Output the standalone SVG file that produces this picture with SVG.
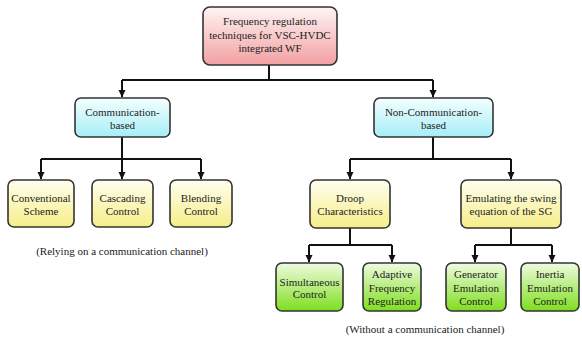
<svg xmlns="http://www.w3.org/2000/svg" width="582" height="338" viewBox="0 0 582 338">
<defs>
<linearGradient id="gPink" x1="0" y1="0" x2="0" y2="1"><stop offset="0" stop-color="#fff4f4"/><stop offset="1" stop-color="#f2a0a2"/></linearGradient>
<linearGradient id="gCyan" x1="0" y1="0" x2="0" y2="1"><stop offset="0" stop-color="#f4feff"/><stop offset="1" stop-color="#a6eef6"/></linearGradient>
<linearGradient id="gYel" x1="0" y1="0" x2="0" y2="1"><stop offset="0" stop-color="#fffff0"/><stop offset="1" stop-color="#f6ee88"/></linearGradient>
<linearGradient id="gGrn" x1="0" y1="0" x2="0" y2="1"><stop offset="0" stop-color="#effce0"/><stop offset="1" stop-color="#7ede1e"/></linearGradient>
<marker id="arr" markerWidth="8" markerHeight="8" refX="7" refY="4" orient="auto" markerUnits="userSpaceOnUse"><path d="M0,0.5 L7.5,4 L0,7.5 Z" fill="#111"/></marker>
<style>
.box{stroke:#333;stroke-width:1.6}
text{font-family:'Liberation Serif','DejaVu Serif',serif;font-size:11px;fill:#222;text-anchor:middle}
.c{fill:none;stroke:#111;stroke-width:2}
.a{fill:none;stroke:#111;stroke-width:2;marker-end:url(#arr)}
</style>
</defs>
<g id="connectors">
<path class="c" d="M269,65 V80 M122,80 H433"/>
<path class="a" d="M122,80 V97"/>
<path class="a" d="M433,80 V97"/>
<path class="c" d="M122,137 V159 M41,159 H201"/>
<path class="a" d="M41,159 V179"/>
<path class="a" d="M122,159 V179"/>
<path class="a" d="M201,159 V179"/>
<path class="c" d="M433,137 V159 M350,159 H511"/>
<path class="a" d="M350,159 V179"/>
<path class="a" d="M511,159 V179"/>
<path class="c" d="M350,228 V245 M309,245 H392"/>
<path class="a" d="M309,245 V262"/>
<path class="a" d="M392,245 V262"/>
<path class="c" d="M511,228 V245 M475,245 H552"/>
<path class="a" d="M475,245 V262"/>
<path class="a" d="M552,245 V262"/>
</g>
<g font-family="Liberation Serif, DejaVu Serif, serif" font-size="11" text-anchor="middle">
<g id="root"><rect class="box" x="203" y="7" width="134" height="58" rx="7" fill="url(#gPink)"/>
<text x="270" y="25">Frequency regulation</text><text x="270" y="38.5">techniques for VSC-HVDC</text><text x="270" y="52">integrated WF</text></g>
<g id="comm"><rect class="box" x="75" y="98" width="95" height="39" rx="6" fill="url(#gCyan)"/>
<text x="122.5" y="116">Communication-</text><text x="122.5" y="129">based</text></g>
<g id="noncomm"><rect class="box" x="374" y="98" width="119" height="39" rx="6" fill="url(#gCyan)"/>
<text x="433.5" y="116">Non-Communication-</text><text x="433.5" y="129">based</text></g>
<g id="conventional"><rect class="box" x="8" y="180" width="66" height="47" rx="6" fill="url(#gYel)"/>
<text x="41" y="202">Conventional</text><text x="41" y="215">Scheme</text></g>
<g id="cascading"><rect class="box" x="92" y="180" width="61" height="47" rx="6" fill="url(#gYel)"/>
<text x="122.5" y="202">Cascading</text><text x="122.5" y="215">Control</text></g>
<g id="blending"><rect class="box" x="170" y="180" width="62" height="47" rx="6" fill="url(#gYel)"/>
<text x="201" y="202">Blending</text><text x="201" y="215">Control</text></g>
<g id="droop"><rect class="box" x="310" y="180" width="80" height="48" rx="6" fill="url(#gYel)"/>
<text x="350" y="202">Droop</text><text x="350" y="215">Characteristics</text></g>
<g id="swing"><rect class="box" x="461" y="180" width="100" height="48" rx="6" fill="url(#gYel)"/>
<text x="511" y="202">Emulating the swing</text><text x="511" y="215">equation of the SG</text></g>
<g id="simultaneous"><rect class="box" x="276" y="263" width="67" height="48" rx="6" fill="url(#gGrn)"/>
<text x="309.5" y="285.5">Simultaneous</text><text x="309.5" y="298">Control</text></g>
<g id="adaptive"><rect class="box" x="363" y="263" width="58" height="48" rx="6" fill="url(#gGrn)"/>
<text x="392" y="278">Adaptive</text><text x="392" y="291.5">Frequency</text><text x="392" y="304.5">Regulation</text></g>
<g id="generator"><rect class="box" x="446" y="263" width="60" height="48" rx="6" fill="url(#gGrn)"/>
<text x="476" y="278">Generator</text><text x="476" y="291.5">Emulation</text><text x="476" y="304.5">Control</text></g>
<g id="inertia"><rect class="box" x="521" y="263" width="58" height="48" rx="6" fill="url(#gGrn)"/>
<text x="550" y="278">Inertia</text><text x="550" y="291.5">Emulation</text><text x="550" y="304.5">Control</text></g>
<g id="labels">
<text x="122" y="255">(Relying on a communication channel)</text>
<text x="425" y="332.5">(Without a communication channel)</text>
</g>
</g>
</svg>
